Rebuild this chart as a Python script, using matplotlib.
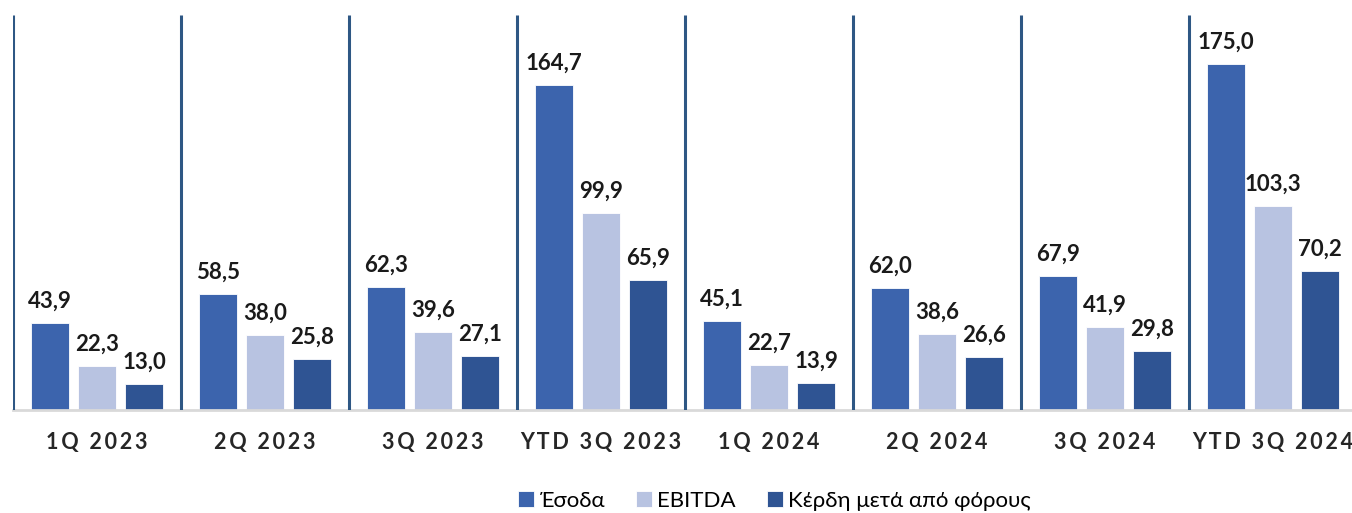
import numpy as np
import matplotlib.pyplot as plt

# === DATA ===
categories = ["1Q 2023", "2Q 2023", "3Q 2023", "YTD 3Q 2023",
              "1Q 2024", "2Q 2024", "3Q 2024", "YTD 3Q 2024"]
series_names = ["Έσοδα", "EBITDA", "Κέρδη μετά από φόρους"]
revenue = [43.9, 58.5, 62.3, 164.7, 45.1, 62.0, 67.9, 175.0]
ebitda = [22.3, 38.0, 39.6, 99.9, 22.7, 38.6, 41.9, 103.3]
net_profit = [13.0, 25.8, 27.1, 65.9, 13.9, 26.6, 29.8, 70.2]

colors = ["#3C64AD", "#B8C3E1", "#2F5493"]
fam = ["Lato", "DejaVu Sans"]

# === PLOT ===
fig = plt.figure(figsize=(13.52, 5.13), dpi=100)
ax = fig.add_axes([13 / 1352, 103 / 513, 1344 / 1352, 395 / 513])

x = np.arange(len(categories))
step = 0.28
width = 0.226
for k, vals in enumerate([revenue, ebitda, net_profit]):
    pos = x + (k - 1) * step
    ax.bar(pos, vals, width, color=colors[k], edgecolor="white", linewidth=0.6,
           label=series_names[k], zorder=2)
    for xp, v in zip(pos, vals):
        ax.annotate(f"{v:.1f}".replace(".", ","), (xp, v), xytext=(0, 11),
                    textcoords="offset points", ha="center", va="baseline",
                    fontsize=16, fontweight="bold", color="#1a1a1a", family=fam)

# group separators
ax.vlines(x - 0.5, 0, 200, color="#2E5784", linewidth=2.2, zorder=3)

ax.set_xlim(-0.5, len(categories) - 0.5)
ax.set_ylim(0, 200)
ax.set_yticks([])
ax.set_xticks(x)
spaced = ["\u2009".join(c) for c in categories]
ax.set_xticklabels(spaced, fontsize=15.5, fontweight="bold", color="#262626", family=fam)
ax.tick_params(axis="x", length=0, pad=16)
for s in ["top", "left", "right"]:
    ax.spines[s].set_visible(False)
ax.spines["bottom"].set_color("#D9D9D9")
ax.spines["bottom"].set_linewidth(2)

fig.legend(loc="center", bbox_to_anchor=(0.573, 0.024), ncol=3, frameon=False,
           prop={"family": fam, "size": 16}, handlelength=0.7, handleheight=0.7,
           handletextpad=0.25, columnspacing=1.4)

plt.savefig("out.png", dpi=100)
plt.close()
